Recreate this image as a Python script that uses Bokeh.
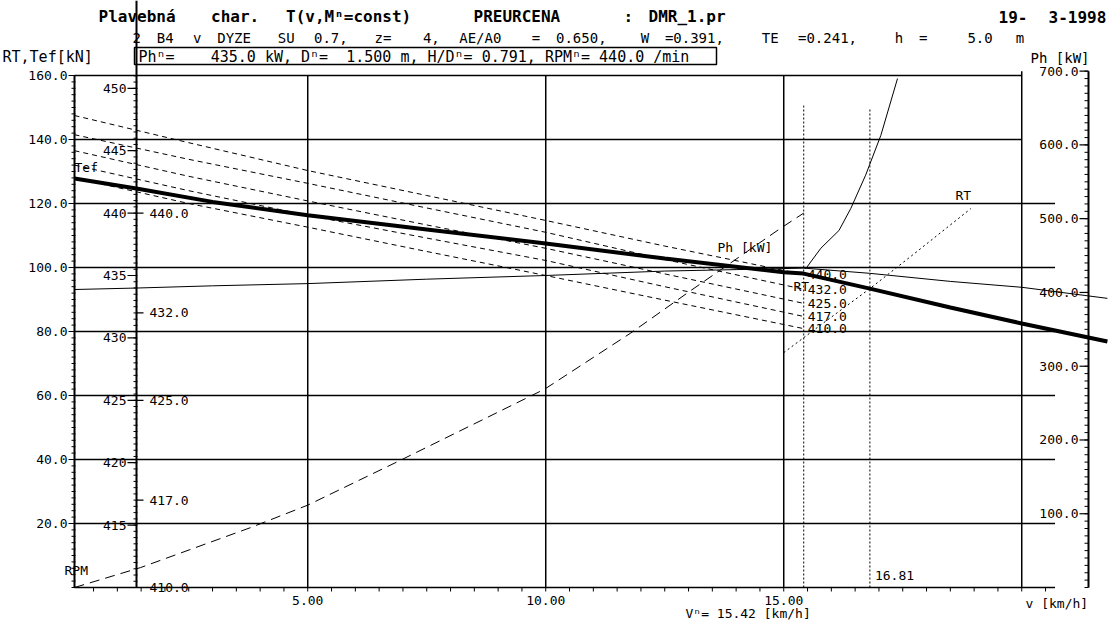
import re
from bokeh.plotting import figure
from bokeh.models import Range1d
from bokeh.core.properties import value
from bokeh.embed import file_html
from bokeh.resources import INLINE

FONT = "DejaVu Sans Mono"
NBSP = "\u00a0"

# ---------------- data ----------------
title_1 = "Plavebná char. T(v,Mⁿ=const)  PREURCENA   : DMR_1.pr                    19- 3-1998"
title_2 = "2 B4 v DYZE SU 0.7, z=  4, AE/A0 = 0.650, W =0.391, TE =0.241, h =   5.0 m"
title_3 = "Phⁿ=    435.0 kW, Dⁿ=  1.500 m, H/Dⁿ= 0.791, RPMⁿ= 440.0 /min"
left_title = "RT,Tef[kN]"
right_title = "Ph [kW]"
x_title = "v [km/h]"

v_n = 15.42          # design speed
v_cross = 16.81      # RT = Tef crossing

# thick Tef line [kN]
v_tef = [0.1, 1.4, 3.0, 5.0, 7.5, 10.0, 12.5, 15.0, 15.42, 16.81, 18.5, 20.0, 21.8]
tef = [127.8, 124.7, 120.5, 116.3, 111.9, 107.5, 102.8, 98.5, 98.1, 93.4, 87.5, 82.5, 76.9]

# thrust at constant RPM [kN]
rpm_levels = [440.0, 432.0, 425.0, 417.0, 410.0]
v_fam = [0.1, 2.5, 5.0, 7.5, 10.0, 12.5, 15.42]
t_440 = [147.5, 139.0, 130.3, 122.5, 114.7, 106.7, 97.8]
t_432 = [141.5, 133.8, 126.3, 118.6, 111.0, 102.5, 93.2]
t_425 = [136.5, 128.5, 120.8, 113.3, 106.0, 98.0, 88.8]
t_417 = [132.0, 124.0, 116.3, 109.2, 102.2, 94.0, 84.7]
t_410 = [128.0, 120.0, 112.6, 105.0, 97.5, 89.8, 80.9]
family = [t_440, t_432, t_425, t_417, t_410]

# RPM curve [1/min]
v_rpm = [0.1, 1.49, 3.8, 5.0, 6.95, 9.98, 11.79, 13.05, 14.94, 15.42]
rpm = [410.0, 411.6, 414.8, 416.6, 420.2, 425.9, 430.4, 433.8, 438.8, 440.0]

# power curve [kW]
v_ph = [0.1, 1.4, 3.0, 5.0, 7.5, 10.0, 12.5, 14.0, 15.42, 16.8, 18.5, 20.0, 21.8]
ph = [404, 406, 409, 412, 418, 423, 429, 431, 433, 426, 415, 407, 392]

# steep power curve [kW]
v_ph2 = [15.46, 15.78, 16.16, 16.41, 16.72, 17.04, 17.39]
ph2 = [432, 460, 484, 514, 559, 613, 690]

# resistance RT [kN]
v_rt = [15.0, 15.8, 16.81, 17.8, 18.93]
rt = [73.4, 82.3, 93.4, 105.0, 118.4]

# axes ticks
kn_ticks = [20, 40, 60, 80, 100, 120, 140, 160]
v_ticks = [5, 10, 15]
v_grid = [5, 10, 15, 20]
rpm_ticks = [415, 420, 425, 430, 435, 440, 445, 450]
ph_ticks = [100, 200, 300, 400, 500, 600, 700]

# ---------------- geometry (page pixels <-> data) ----------------
W, H = 1118, 620
FL, FB = 74, 587          # page px of v=0.1 and of 0 kN
PXV, PXK = 47.6, 3.2      # px per km/h, px per kN
V_LEFT = 0.1
KN_PER_RPM = 3.9
KN_PER_KW = 0.2305
XS = V_LEFT - FL / PXV
XE = XS + W / PXV
YS = -(H - FB) / PXK
YE = FB / PXK


def xd(px):
    return XS + px / PXV


def yd(py):
    return YE - py / PXK


def dxp(px):
    return px / PXV


def dyp(px):
    return px / PXK


p = figure(width=W, height=H, x_range=Range1d(XS, XE), y_range=Range1d(YS, YE),
           x_axis_type=None, y_axis_type=None, title=None,
           output_backend="svg", toolbar_location=None,
           min_border_left=0, min_border_right=0, min_border_top=0, min_border_bottom=0)
p.extra_y_ranges = {"rpm": Range1d(410.0 + YS / KN_PER_RPM, 410.0 + YE / KN_PER_RPM),
                    "ph": Range1d(YS / KN_PER_KW, YE / KN_PER_KW)}
p.outline_line_color = None
p.background_fill_color = "white"
p.border_fill_color = "white"


def texts(xs, ys, labels, size="13px", align="left", baseline="middle", bold=False,
          rng="default", x_offset=0):
    p.text(x=xs, y=ys, text=labels, text_font=value(FONT), text_font_size=value(size),
           text_align=align, text_baseline=baseline, x_offset=x_offset,
           text_font_style="bold" if bold else "normal", text_color="black",
           y_range_name=rng)


def hticks(x, vals, left_px, right_px, width=1.0, rng="default"):
    n = len(vals)
    p.segment(x0=[x - dxp(left_px)] * n, y0=vals, x1=[x + dxp(right_px)] * n, y1=vals,
              line_color="black", line_width=width, y_range_name=rng)


# ---- grid lines ----
p.segment(x0=[V_LEFT] * len(kn_ticks), y0=kn_ticks,
          x1=[20.0 if k >= 140 else 20.7 for k in kn_ticks], y1=kn_ticks,
          line_color="black", line_width=1.5)
p.segment(x0=v_grid, y0=[0] * len(v_grid), x1=v_grid,
          y1=[160 if v < 20 else 700 * KN_PER_KW for v in v_grid],
          line_color="black", line_width=1.5)

# ---- left kN axis ----
p.segment(x0=[V_LEFT], y0=[0], x1=[V_LEFT], y1=[160], line_color="black", line_width=2)
hticks(V_LEFT, list(range(0, 161, 2)), 3, 1)
hticks(V_LEFT, kn_ticks, 6, 0, 1.2)
texts([V_LEFT] * len(kn_ticks), kn_ticks, [f"{k:.1f}" for k in kn_ticks],
      align="right", x_offset=-7)

# ---- bottom v axis ----
p.segment(x0=[V_LEFT], y0=[0], x1=[20.7], y1=[0], line_color="black", line_width=1.5)
v_minor = [0.5 * i for i in range(1, 42)]
p.segment(x0=v_minor, y0=[0] * len(v_minor), x1=v_minor, y1=[-dyp(4)] * len(v_minor),
          line_color="black", line_width=1)
texts(v_ticks, [yd(600)] * len(v_ticks), [f"{v:.2f}" for v in v_ticks], align="center")

# ---- RPM axis (inside) ----
x_rpm = xd(136)
p.segment(x0=[x_rpm], y0=[0], x1=[x_rpm], y1=[YE], line_color="black", line_width=2)
hticks(x_rpm, [410.0 + 0.5 * i for i in range(0, 83)], 3, 1, rng="rpm")
hticks(x_rpm, rpm_ticks, 9, 0, 1.2, rng="rpm")
texts([x_rpm] * len(rpm_ticks), rpm_ticks, [f"{r:d}" for r in rpm_ticks],
      align="right", x_offset=-10, rng="rpm")
hticks(x_rpm, rpm_levels, 0, 7, 1.2, rng="rpm")
texts([x_rpm] * len(rpm_levels), rpm_levels, [f"{r:.1f}" for r in rpm_levels],
      x_offset=13, rng="rpm")

# ---- Ph axis (inside, right) ----
x_ph = xd(1088)
p.segment(x0=[x_ph], y0=[0], x1=[x_ph], y1=[700.0], y_range_name="ph",
          line_color="black", line_width=2)
hticks(x_ph, [10.0 * i for i in range(0, 71)], 4, 0, rng="ph")
hticks(x_ph, ph_ticks, 9, 0, 1.2, rng="ph")
texts([x_ph] * len(ph_ticks), ph_ticks, [f"{k:.1f}" for k in ph_ticks],
      align="right", x_offset=-10, rng="ph")

# ---- curves ----
for series in family:
    p.line(v_fam, series, line_color="black", line_width=1, line_dash="5 4")
p.line(v_rpm, rpm, y_range_name="rpm", line_color="black", line_width=1, line_dash="10 6")
p.line(v_ph, ph, y_range_name="ph", line_color="black", line_width=1)
p.line(v_ph2, ph2, y_range_name="ph", line_color="black", line_width=1)
p.line(v_rt, rt, line_color="black", line_width=1, line_dash="2 3")
p.line(v_tef, tef, line_color="black", line_width=4)
p.segment(x0=[v_n, v_cross], y0=[0, 0], x1=[v_n, v_cross], y1=[150.6, 149.7],
          line_color="black", line_width=1, line_dash="2 2")
texts([v_fam[-1]] * len(family), [s[-1] for s in family],
      [f"{r:.1f}" for r in rpm_levels], x_offset=4)

# ---- titles ----
for line, px0, py, pitch, size, bold in [(title_1, 98, 16, 12.5, "16px", True),
                                         (title_2, 132, 37, 12.1, "14px", False)]:
    toks = list(re.finditer(r"\S+", line))
    texts([xd(px0 + pitch * m.start()) for m in toks], [yd(py)] * len(toks),
          [m.group(0) for m in toks], size=size, bold=bold)

p.quad(left=[xd(134)], right=[xd(716)], top=[yd(47)], bottom=[yd(64)],
       fill_color=None, line_color="black", line_width=1.5)
texts([xd(138)], [yd(56)], [title_3.replace(" ", NBSP)], size="15px")
texts([xd(2)], [yd(56)], [left_title], size="15px")
texts([xd(1030)], [yd(57)], [right_title], size="14px")

# ---- curve labels and notes ----
texts([xd(74)], [yd(167)], ["Tef"])
texts([xd(717)], [yd(247)], ["Ph [kW]"])
texts([xd(955)], [yd(195)], ["RT"])
texts([xd(793)], [yd(286)], ["RT"])
texts([xd(64)], [yd(570)], ["RPM"])
texts([v_cross], [yd(575)], [f"{v_cross:.2f}"], x_offset=5)
texts([xd(685)], [yd(613)], [f"Vⁿ= {v_n:.2f} [km/h]"])
texts([xd(1025)], [yd(603)], [x_title])

open("out.html", "w").write(file_html(p, INLINE))
